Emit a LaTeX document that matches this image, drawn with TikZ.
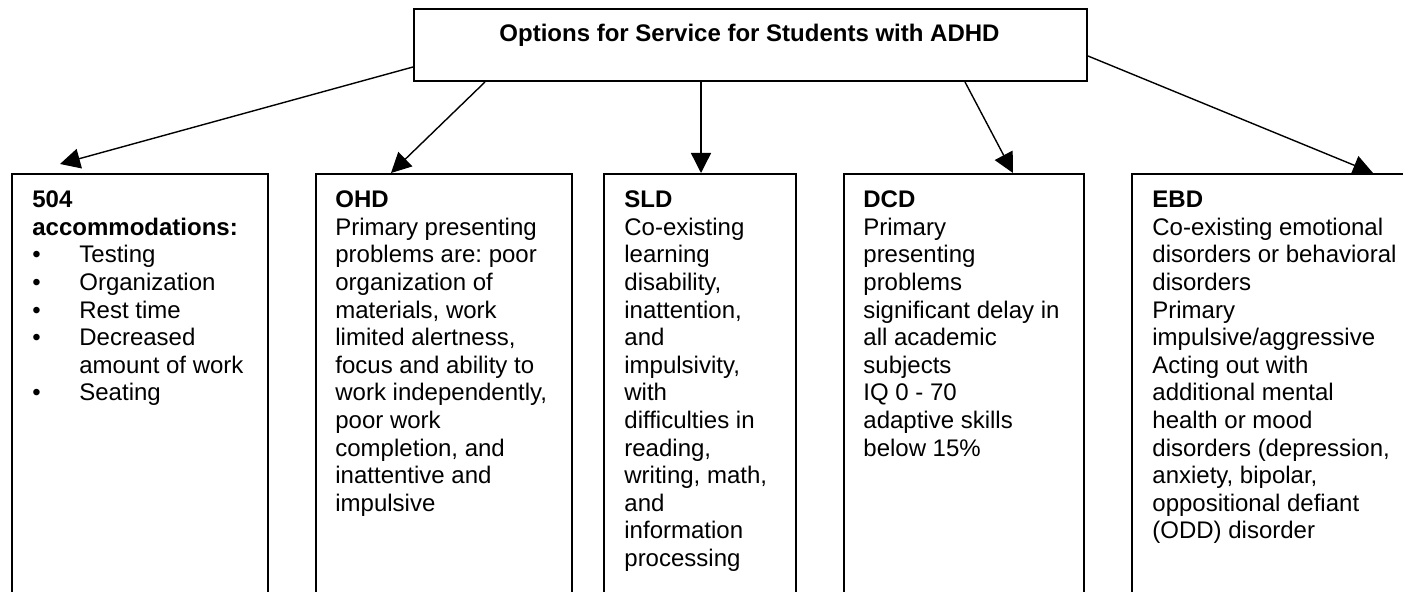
\documentclass[tikz,border=0pt]{standalone}
\usepackage{fontspec}
\setmainfont{Liberation Sans}
\usetikzlibrary{arrows.meta,calc}
\frenchspacing
\begin{document}
\begin{tikzpicture}[x=0.5pt,y=-0.5pt,
  box/.style={draw, line width=1pt, anchor=north west, inner sep=0pt, minimum height=220pt},
  txt/.style={anchor=north west, inner sep=0pt, align=left, font=\fontsize{12}{13.8}\selectfont},
  conn/.style={line width=0.7pt, -{Triangle[length=10pt,width=10pt]}}]
\useasboundingbox (0,0) rectangle (1403,592);
\clip (0,0) rectangle (1403,592);
\fill[white] (0,0) rectangle (1403,592);
% top box
\node[draw, line width=1pt, anchor=north west, inner sep=0pt, minimum width=336.5pt, minimum height=36pt] (top) at (413,8) {};
\node[anchor=base, inner sep=0pt, font=\bfseries\fontsize{12}{13.8}\selectfont] (title) at (749.5,42) {Options for Service for Students with ADHD};
% boxes
\node[box, minimum width=128pt] (b1) at (11,173) {};
\node[box, minimum width=128pt] (b2) at (315,173) {};
\node[box, minimum width=96pt] (b3) at (603,173) {};
\node[box, minimum width=120pt] (b4) at (843,173) {};
\node[box, minimum width=150pt] (b5) at (1131,173) {};
% texts
\node[txt] (t1) at (32,188) {\strut\textbf{504}\\
\textbf{accommodations:}\\
\makebox[23.5pt][l]{•}Testing\\
\makebox[23.5pt][l]{•}Organization\\
\makebox[23.5pt][l]{•}Rest time\\
\makebox[23.5pt][l]{•}Decreased\\
\hspace*{23.5pt}amount of work\\
\makebox[23.5pt][l]{•}Seating};
\node[txt] (t2) at (335,188) {\strut\textbf{OHD}\\
Primary presenting\\
problems are: poor\\
organization of\\
materials, work\\
limited alertness,\\
focus and ability to\\
work independently,\\
poor work\\
completion, and\\
inattentive and\\
impulsive};
\node[txt] (t3) at (624,188) {\strut\textbf{SLD}\\
Co-existing\\
learning\\
disability,\\
inattention,\\
and\\
impulsivity,\\
with\\
difficulties in\\
reading,\\
writing, math,\\
and\\
information\\
processing};
\node[txt] (t4) at (863,188) {\strut\textbf{DCD}\\
Primary\\
presenting\\
problems\\
significant delay in\\
all academic\\
subjects\\
IQ 0 - 70\\
adaptive skills\\
below 15\%};
\node[txt] (t5) at (1152,188) {\strut\textbf{EBD}\\
Co-existing emotional\\
disorders or behavioral\\
disorders\\
Primary\\
impulsive/aggressive\\
Acting out with\\
additional mental\\
health or mood\\
disorders (depression,\\
anxiety, bipolar,\\
oppositional defiant\\
(ODD) disorder};
% connectors
\draw[conn] ($(top.north west)+(0,59)$) -- ($(b1.north west)+(49,-9)$);
\draw[conn] ($(top.south west)+(72,0)$) -- ($(b2.north west)+(76,0)$);
\draw[conn] ($(top.south west)+(288,0)$) -- ($(b3.north west)+(98,0)$);
\draw[conn] ($(top.south west)+(552,0)$) -- ($(b4.north west)+(170,0)$);
\draw[conn] ($(top.north east)+(0,48)$) -- ($(b5.north west)+(242,0)$);
\end{tikzpicture}
\end{document}
